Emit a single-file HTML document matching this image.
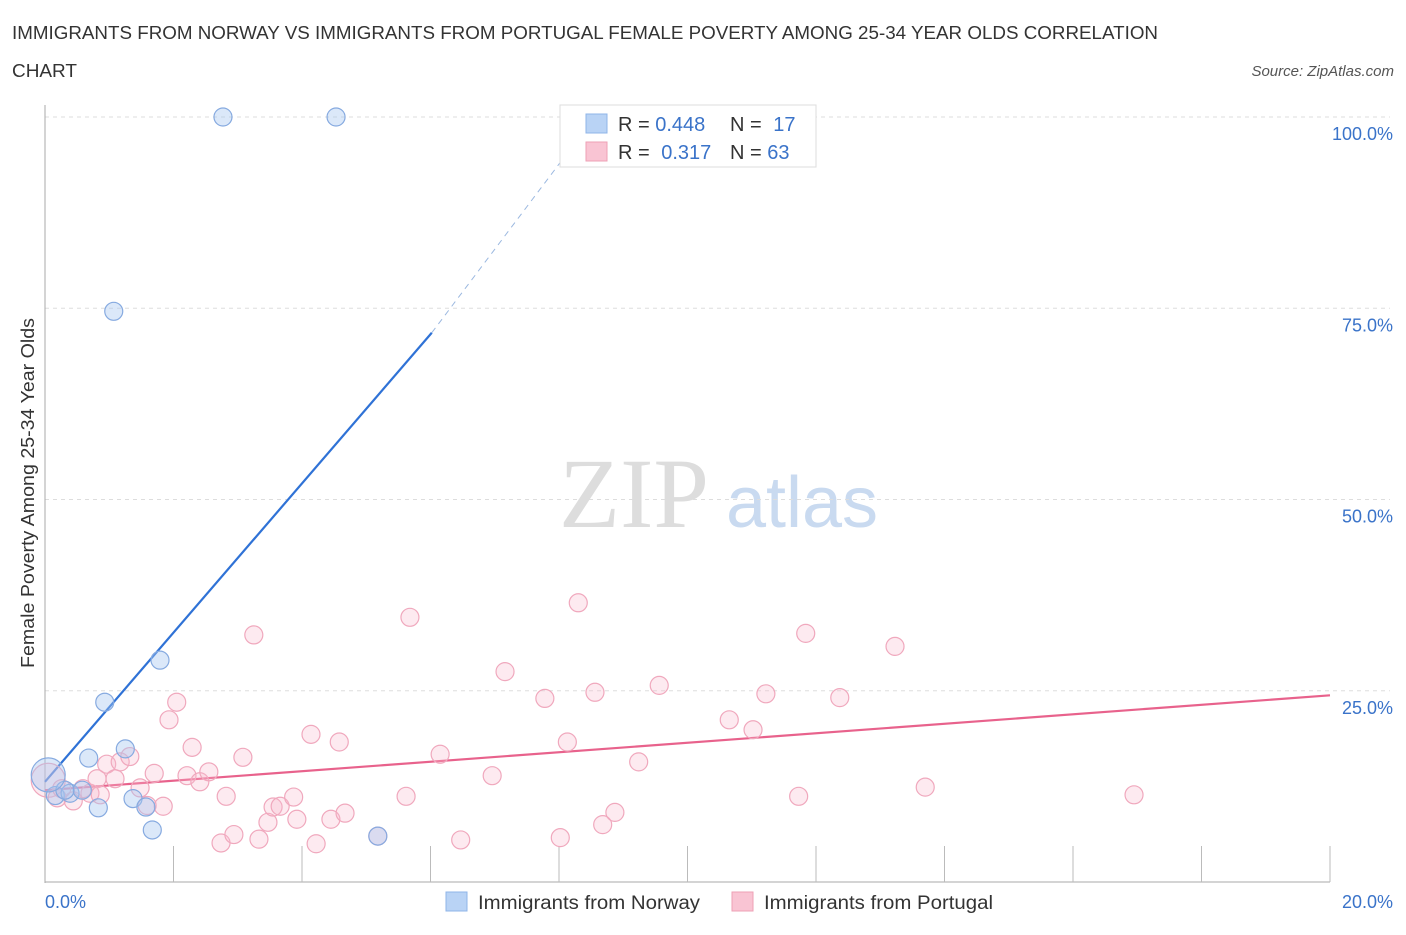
<!DOCTYPE html>
<html><head><meta charset="utf-8"><style>
body{margin:0;background:#fff;font-family:"Liberation Sans",sans-serif;}
</style></head><body>
<svg id="chart" width="1406" height="930" xmlns="http://www.w3.org/2000/svg" font-family="Liberation Sans, sans-serif">
<text x="12" y="39" font-size="18" fill="#333" textLength="1146" lengthAdjust="spacingAndGlyphs">IMMIGRANTS FROM NORWAY VS IMMIGRANTS FROM PORTUGAL FEMALE POVERTY AMONG 25-34 YEAR OLDS CORRELATION</text>
<text x="12" y="77" font-size="18" fill="#333" textLength="65" lengthAdjust="spacingAndGlyphs">CHART</text>
<text x="1394" y="76" font-size="15" fill="#555" font-style="italic" text-anchor="end">Source: ZipAtlas.com</text>
<text x="634" y="527" font-size="100" fill="#ddd" style="font-family:'Liberation Serif',serif" text-anchor="middle">ZIP</text>
<text x="802" y="527" font-size="72" fill="#c9daf0" text-anchor="middle">atlas</text>
<text transform="translate(34,493) rotate(-90)" font-size="18" fill="#333" text-anchor="middle" textLength="350" lengthAdjust="spacingAndGlyphs">Female Poverty Among 25-34 Year Olds</text>
<g id="grid"></g><g id="ticks"></g><g id="lines"></g><g id="points"></g>
<g>
<rect x="560" y="105" width="256" height="62" fill="#fff" stroke="#ddd"/>
<rect x="586" y="114" width="21" height="19" fill="#b9d3f5" stroke="#8fb4e8"/>
<rect x="586" y="142" width="21" height="19" fill="#f9c4d3" stroke="#eea0b6"/>
<text x="618" y="131" font-size="20" fill="#333">R = <tspan fill="#3a73c9">0.448</tspan></text>
<text x="730" y="131" font-size="20" fill="#333">N = <tspan fill="#3a73c9" dx="6">17</tspan></text>
<text x="618" y="159" font-size="20" fill="#333">R = <tspan fill="#3a73c9" dx="6">0.317</tspan></text>
<text x="730" y="159" font-size="20" fill="#333">N = <tspan fill="#3a73c9">63</tspan></text>
</g>
<g>
<rect x="446" y="892" width="21" height="19" fill="#b9d3f5" stroke="#8fb4e8"/>
<text x="478" y="909" font-size="19" fill="#333" textLength="222" lengthAdjust="spacingAndGlyphs">Immigrants from Norway</text>
<rect x="732" y="892" width="21" height="19" fill="#f9c4d3" stroke="#eea0b6"/>
<text x="764" y="909" font-size="19" fill="#333" textLength="229" lengthAdjust="spacingAndGlyphs">Immigrants from Portugal</text>
</g>
</svg>
<script>
const yTicks=[25,50,75,100];
const xTickLabels=["0.0%","20.0%"];
const norwayX=[2.77,4.53,1.07,1.79,0.93,0.68,1.25,1.37,1.57,1.67,0.83,5.18,0.16,0.39,0.58,0.31,0.05];
const norwayY=[100,100,74.6,29.0,23.5,16.2,17.4,10.9,9.8,6.8,9.7,6.0,11.3,11.6,12.0,12.0,14.0];
const portX=[0.05,0.19,0.44,0.7,0.59,0.81,0.96,1.17,1.09,1.32,1.48,1.59,1.7,1.84,1.93,2.05,2.21,2.29,2.41,2.55,2.74,2.82,2.94,3.08,3.25,3.33,3.47,3.55,3.66,3.87,3.92,4.14,4.22,4.45,4.58,4.67,5.18,5.62,5.68,6.15,6.47,6.96,7.16,7.78,8.02,8.13,8.3,8.56,8.68,8.87,9.24,9.56,10.65,11.02,11.22,11.73,11.84,12.37,13.23,13.7,16.95,0.26,0.86];
const portY=[13.3,11.0,10.6,11.6,12.2,13.5,15.4,15.7,13.5,16.4,12.3,10.0,14.2,9.9,21.2,23.5,13.9,17.6,13.1,14.4,5.1,11.2,6.2,16.3,32.3,5.6,7.8,9.8,9.9,11.1,8.2,19.3,5.0,8.2,18.3,9.0,6.0,11.2,34.6,16.7,5.5,13.9,27.5,24.0,5.8,18.3,36.5,24.8,7.5,9.1,15.7,25.7,21.2,19.9,24.6,11.2,32.5,24.1,30.8,12.4,11.4,12.2,11.4];
const blueLine=[[0,13.1],[6.02,71.8]];
const blueDash=[[6.02,71.8],[8.05,94.4]];
const pinkLine=[[0,12.0],[20,24.4]];
const SVGNS="http://www.w3.org/2000/svg";
const X=v=>45+v/20*1285, Y=v=>882-v/100*765;
function mk(t,a,p){const e=document.createElementNS(SVGNS,t);for(const k in a)e.setAttribute(k,a[k]);document.getElementById(p).appendChild(e);return e;}
yTicks.forEach(t=>{
 const g=mk('line',{x1:45,x2:1390,y1:Y(t),y2:Y(t),stroke:'#ddd','stroke-dasharray':'4,4'},'grid');
 
 
 const l=mk('text',{x:1393,y:Y(t)+23,'font-size':18,fill:'#3a73c9','text-anchor':'end'},'ticks');
 l.textContent=t.toFixed(1)+'%';
 
 
});
const ax=mk('line',{x1:45,x2:45,y1:105,y2:883,stroke:'#aaa'},'grid');


const bx=mk('line',{x1:45,x2:1330,y1:882,y2:882,stroke:'#aaa'},'grid');


for(let i=1;i<=10;i++){
 const t=mk('line',{x1:X(i*2),x2:X(i*2),y1:846,y2:882,stroke:'#bbb'},'grid');
 
 
}
[[0,'start',45],[1,'end',1393]].forEach(([i,a,x])=>{
 const l=mk('text',{x:x,y:908,'font-size':18,fill:'#3a73c9','text-anchor':a},'ticks');
 l.textContent=xTickLabels[i];
 
 
});
function ln(pts,c,w,d,name){
 const e=mk('line',{x1:X(pts[0][0]),y1:Y(pts[0][1]),x2:X(pts[1][0]),y2:Y(pts[1][1]),stroke:c,'stroke-width':w},'lines');
 if(d)e.setAttribute('stroke-dasharray',d);
 
 
}
ln(blueLine,'#2f72d6',2.2,null,'norway-trend-line');
ln(blueDash,'#9bb8e0',1,'6,5','norway-trend-extension');
ln(pinkLine,'#e8628c',2.2,null,'portugal-trend-line');
portX.forEach((x,i)=>{
 const c=mk('circle',{cx:X(x),cy:Y(portY[i]),r:i==0?17:9,fill:'rgba(248,185,205,0.3)',stroke:'#f0a8bd','stroke-width':1.2},'points');
 
 
});
norwayX.forEach((x,i)=>{
 const c=mk('circle',{cx:X(x),cy:Y(norwayY[i]),r:i==16?17:9,fill:'rgba(165,198,240,0.4)',stroke:'#86aae0','stroke-width':1.2},'points');
 
 
});
</script>
</body></html>
